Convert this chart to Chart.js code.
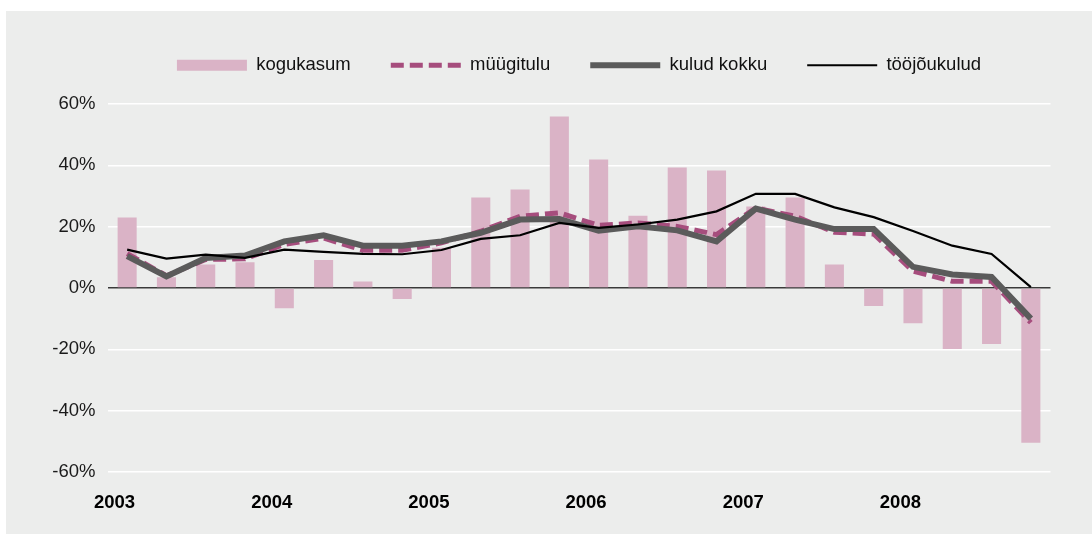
<!DOCTYPE html>
<html>
<head>
<meta charset="utf-8">
<script src="https://cdn.jsdelivr.net/npm/chart.js@4.4.1/dist/chart.umd.min.js"></script>
<style>
  html, body { margin: 0; padding: 0; background: #ffffff; }
  #wrap { position: absolute; left: 0; top: 0; width: 1092px; height: 534px; }
</style>
</head>
<body>
<div id="wrap"><canvas id="c" width="1092" height="534"></canvas></div>
<script>
// Quarterly categories 2003 Q1 .. 2008 Q4
const quarters = [
  '2003 I','2003 II','2003 III','2003 IV',
  '2004 I','2004 II','2004 III','2004 IV',
  '2005 I','2005 II','2005 III','2005 IV',
  '2006 I','2006 II','2006 III','2006 IV',
  '2007 I','2007 II','2007 III','2007 IV',
  '2008 I','2008 II','2008 III','2008 IV'
];
// Tick labels shown on the x axis (one per year)
const yearLabels = ['2003','','','','2004','','','','2005','','','','2006','','','','2007','','','','2008','','',''];
const yTicks = [-60, -40, -20, 0, 20, 40, 60];

const kogukasum = [23.0, 3.5, 7.7, 8.4, -6.6, 9.1, 2.1, -3.6, 13.1, 29.5, 32.1, 55.9,
                   41.9, 23.6, 39.3, 38.3, 26.6, 29.5, 7.7, -5.9, -11.5, -19.9, -18.3, -50.5];
const myygitulu = [11.2, 4.0, 9.3, 9.5, 14.2, 16.3, 12.3, 12.3, 14.7, 18.5, 23.4, 24.5,
                   20.4, 21.2, 20.1, 17.4, 26.1, 23.4, 18.2, 17.6, 5.5, 2.2, 2.2, -11.3];
const kuludKokku = [10.4, 3.8, 9.8, 10.6, 15.2, 17.2, 13.8, 13.8, 15.2, 18.0, 22.3, 22.5,
                    18.7, 20.1, 18.8, 15.2, 25.9, 22.3, 19.2, 19.2, 6.9, 4.4, 3.6, -10.0];
const toojoukulud = [12.5, 9.6, 10.9, 9.8, 12.5, 11.8, 11.1, 11.0, 12.4, 16.0, 17.2, 21.2,
                     19.6, 20.7, 22.3, 25.0, 30.7, 30.7, 26.3, 23.1, 18.6, 13.8, 11.1, 0.3];

const FONT = "'Liberation Sans', Arial, Helvetica, sans-serif";

const bgPlugin = {
  id: 'panelBg',
  beforeDraw(chart) {
    const ctx = chart.ctx;
    ctx.save();
    ctx.fillStyle = '#ecedec';
    ctx.fillRect(6, 11, chart.width - 6, chart.height - 11);
    ctx.restore();
  }
};
const legendSpace = {
  id: 'legendSpace',
  beforeInit(chart) {
    const orig = chart.legend.fit;
    chart.legend.fit = function () {
      orig.bind(chart.legend)();
      this.height += 19.5;
    };
  }
};

new Chart(document.getElementById('c'), {
  data: {
    labels: quarters,
    datasets: [
      { type: 'bar', label: 'kogukasum', data: kogukasum, backgroundColor: '#dab3c6',
        borderWidth: 0, categoryPercentage: 1, barPercentage: 0.485, order: 4 },
      { type: 'line', label: 'müügitulu', data: myygitulu, borderColor: '#a64d7d',
        borderWidth: 5, borderDash: [13, 6], pointRadius: 0, tension: 0, fill: false, order: 3 },
      { type: 'line', label: 'kulud kokku', data: kuludKokku, borderColor: '#5b5b5b',
        borderWidth: 6, pointRadius: 0, tension: 0, fill: false, order: 2 },
      { type: 'line', label: 'tööjõukulud', data: toojoukulud, borderColor: '#000000',
        borderWidth: 2.2, pointRadius: 0, tension: 0, fill: false, order: 1 }
    ]
  },
  options: {
    responsive: false,
    animation: false,
    devicePixelRatio: 1,
    layout: { padding: { top: 16, left: 0, right: 41.5, bottom: 0 } },
    plugins: {
      tooltip: { enabled: false },
      legend: {
        display: true,
        position: 'top',
        fullSize: false,
        labels: {
          usePointStyle: true,
          pointStyleWidth: 70,
          boxHeight: 11,
          padding: 40,
          color: '#111111',
          font: { family: FONT, size: 18.5 },
          generateLabels(chart) {
            return chart.data.datasets.map((ds, i) => ({
              text: ds.label,
              datasetIndex: i,
              hidden: false,
              fontColor: '#111111',
              fillStyle: ds.type === 'bar' ? ds.backgroundColor : ds.borderColor,
              strokeStyle: ds.type === 'bar' ? ds.backgroundColor : ds.borderColor,
              lineWidth: ds.type === 'bar' ? 0 : ds.borderWidth,
              lineDash: ds.borderDash || [],
              lineCap: 'butt',
              pointStyle: ds.type === 'bar' ? 'rect' : 'line'
            }));
          }
        }
      }
    },
    scales: {
      x: {
        type: 'category',
        offset: true,
        grid: { display: false, drawTicks: false },
        border: { display: false },
        ticks: {
          autoSkip: false,
          maxRotation: 0,
          minRotation: 0,
          labelOffset: -12.6,
          padding: 20,
          color: '#000000',
          font: { family: FONT, size: 18.5, weight: 'bold' },
          callback: (v, i) => yearLabels[i]
        },
        afterFit(scale) { scale.height = 62; }
      },
      y: {
        min: -60,
        max: 60,
        afterBuildTicks(scale) { scale.ticks = yTicks.map(v => ({ value: v })); },
        grid: {
          drawTicks: false,
          color: ctx => (ctx.tick && ctx.tick.value === 0) ? '#3a3a3a' : '#ffffff',
          lineWidth: ctx => (ctx.tick && ctx.tick.value === 0) ? 1.4 : 1.6
        },
        border: { display: false },
        ticks: {
          padding: 12,
          color: '#1a1a1a',
          font: { family: FONT, size: 18.5 },
          callback: v => v + '%'
        },
        afterFit(scale) { scale.width = 107.5; }
      }
    }
  },
  plugins: [bgPlugin, legendSpace]
});
</script>
</body>
</html>
